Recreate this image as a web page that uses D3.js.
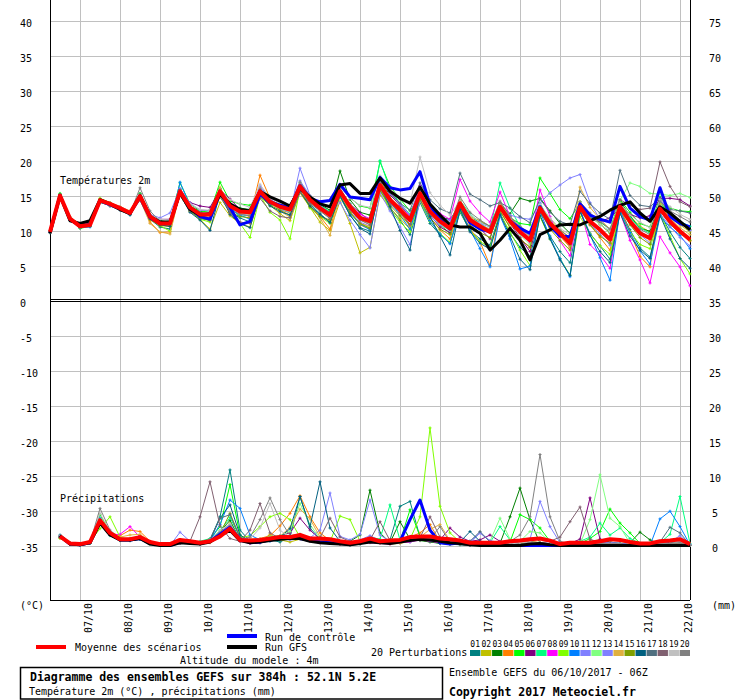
<!DOCTYPE html>
<html>
<head>
<meta charset="utf-8">
<script src="https://cdn.jsdelivr.net/npm/d3@7"></script>
<style>
  body { margin: 0; background: #fff; }
  text { font-family: "DejaVu Sans Mono", monospace; font-size: 10px; fill: #000; }
  .bold { font-weight: bold; font-size: 11.5px; }
  .tiny { font-size: 8px; }
</style>
</head>
<body>
<div id="chart"></div>
<script>
// run start 06/10/2017 06Z, 6-hourly steps over 384h
const runStart = Date.UTC(2017, 9, 6, 6)

const tempTicks = [0, 5, 10, 15, 20, 25, 30, 35, 40]
const tempRightLabels = ['35', '40', '45', '50', '55', '60', '65', '70', '75']
const lowLeftTicks = [-35, -30, -25, -20, -15, -10, -5]
const precipTicks = [0, 5, 10, 15, 20, 25, 30, 35]

const pertLabels = ['01', '02', '03', '04', '05', '06', '07', '08', '09', '10',
  '11', '12', '13', '14', '15', '16', '17', '18', '19', '20']
const pertColors = ['#008080', '#c0c000', '#008000', '#ff8000', '#00ff00', '#800080', '#00ff80', '#ff00ff', '#80ff00', '#0080ff',
  '#8080ff', '#80ff80', '#8080ff', '#e0b040', '#80a000', '#006080', '#507080', '#806070', '#c0c0c0', '#808080']

// 2m temperature (°C), 65 steps
const tempMean = [9.8, 15.0, 11.7, 10.6, 10.8, 14.3, 13.8, 13.2, 12.5, 14.9, 12.0, 11.0, 11.0, 15.6, 13.3, 12.3, 12.3,
  15.6, 13.5, 12.7, 12.6, 15.6, 14.1, 13.4, 13.0, 16.3, 14.4, 13.2, 12.2, 15.6, 13.4, 11.8, 11.3, 16.5, 14.4, 13.0, 11.5,
  15.3, 12.7, 11.3, 10.3, 13.9, 11.5, 10.6, 9.8, 13.4, 11.3, 9.8, 8.6, 13.2, 11.0, 9.6, 8.2, 13.4, 11.3, 10.1, 8.7,
  13.4, 11.3, 9.6, 8.9, 13.1, 11.3, 9.9, 8.7]
const tempCtrl = [9.7, 15.0, 11.6, 10.6, 10.9, 14.2, 13.7, 13.1, 12.5, 14.7, 11.8, 11.0, 11.0, 15.5, 13.2, 12.0, 11.6,
  15.4, 13.3, 10.8, 11.3, 15.2, 14.0, 13.6, 13.2, 16.4, 14.6, 14.1, 14.3, 16.6, 14.8, 14.6, 14.4, 17.6, 16.1, 15.8, 16.0,
  18.4, 13.6, 11.6, 10.2, 13.8, 11.1, 10.2, 9.8, 13.4, 11.4, 10.3, 9.6, 13.4, 10.7, 9.2, 9.1, 13.8, 12.2, 11.6, 11.2,
  16.3, 13.2, 12.0, 11.5, 16.1, 12.0, 11.0, 10.5]
const tempGfs = [9.6, 15.0, 11.4, 11.0, 11.4, 14.4, 13.8, 13.0, 12.4, 15.0, 12.0, 11.2, 11.2, 15.4, 13.0, 12.2, 12.4,
  15.2, 13.8, 13.0, 12.8, 15.6, 14.8, 14.2, 13.5, 16.0, 14.8, 13.8, 13.4, 16.5, 16.7, 15.3, 15.3, 17.5, 15.6, 14.6, 13.9,
  16.2, 13.8, 12.2, 10.8, 10.5, 10.5, 9.6, 7.2, 8.6, 10.3, 8.6, 5.8, 9.4, 10.1, 10.8, 10.9, 10.8, 11.4, 12.0, 12.9,
  13.6, 14.1, 12.5, 11.3, 13.4, 12.5, 11.3, 10.1]
const tempPert = [
  [9.7, 15.1, 11.5, 10.4, 10.7, 14.2, 13.6, 13.0, 12.3, 14.6, 11.6, 10.5, 10.2, 15.2, 12.8, 11.7, 11.5, 15.0, 12.6, 11.8, 11.2,
    15.9, 14.4, 13.6, 13.2, 16.0, 13.8, 12.4, 11.2, 14.8, 12.2, 10.4, 9.9, 15.8, 13.3, 11.5, 9.4, 14.0, 11.0, 9.4, 8.2,
    12.6, 10.0, 8.8, 7.9, 12.5, 9.6, 7.6, 6.3, 12.0, 9.2, 7.0, 5.4, 12.6, 9.6, 7.8, 5.9, 13.0, 10.1, 7.5, 6.2, 12.5, 9.8, 7.6, 6.0],
  [9.9, 14.9, 11.8, 10.7, 10.9, 14.5, 13.9, 13.3, 12.6, 14.3, 11.5, 10.8, 10.6, 15.0, 12.8, 11.6, 10.2, 14.0, 12.1, 11.0, 10.5,
    14.8, 13.6, 12.4, 11.4, 15.4, 13.3, 11.2, 10.0, 14.2, 11.0, 6.8, 7.6, 15.1, 13.2, 11.7, 10.2, 15.6, 13.2, 11.8, 10.9,
    14.3, 12.0, 11.4, 10.6, 14.0, 12.0, 10.3, 9.3, 13.5, 11.6, 10.1, 9.0, 14.1, 12.2, 11.0, 9.6, 13.9, 12.0, 10.6, 9.8, 13.3, 11.9, 10.8, 9.8],
  [9.8, 15.2, 11.9, 10.8, 10.9, 14.1, 13.7, 13.1, 12.5, 15.3, 12.3, 11.4, 11.2, 15.9, 13.5, 12.7, 12.9, 16.0, 13.9, 13.2, 13.0,
    15.4, 14.0, 13.2, 13.1, 16.6, 14.9, 13.7, 12.9, 18.5, 14.4, 12.6, 12.2, 17.0, 15.1, 13.6, 12.0, 15.1, 12.9, 11.9, 11.6,
    13.6, 11.8, 11.2, 10.6, 13.8, 12.4, 14.6, 14.2, 14.6, 12.8, 11.0, 9.6, 13.7, 12.0, 10.9, 9.7, 14.2, 12.1, 10.3, 9.9, 14.3, 12.5, 11.2, 10.1],
  [9.9, 14.8, 11.7, 10.5, 10.6, 14.4, 13.9, 13.4, 12.7, 15.0, 11.2, 9.7, 9.8, 15.4, 13.0, 12.1, 11.8, 15.8, 13.4, 12.4, 12.0,
    17.9, 14.6, 13.0, 12.5, 16.1, 13.5, 12.0, 10.2, 15.5, 12.8, 10.8, 10.2, 17.2, 14.6, 12.6, 10.6, 14.8, 11.9, 10.1, 8.8,
    13.4, 10.2, 8.4, 5.0, 12.8, 10.5, 8.8, 7.6, 13.6, 10.9, 9.2, 7.6, 13.1, 10.8, 9.0, 7.2, 13.2, 9.8, 6.3, 4.8, 14.3, 11.7, 9.8, 8.5],
  [9.7, 15.3, 11.6, 10.3, 10.6, 14.0, 13.6, 13.0, 12.4, 15.2, 12.1, 11.0, 11.3, 16.8, 13.8, 12.8, 12.6, 16.9, 14.2, 13.8, 13.6,
    15.2, 13.7, 13.3, 12.6, 15.8, 14.0, 13.0, 12.5, 16.4, 14.7, 13.5, 13.2, 19.8, 16.3, 14.5, 12.8, 14.9, 12.5, 10.8, 9.6,
    13.0, 11.2, 10.2, 9.9, 12.9, 11.8, 11.0, 10.8, 17.5, 15.3, 13.0, 11.7, 13.9, 12.0, 11.2, 10.2, 14.4, 12.6, 11.0, 10.5, 14.8, 13.2, 12.8, 12.7],
  [9.8, 14.9, 11.8, 10.6, 10.8, 14.3, 13.8, 13.3, 12.7, 14.6, 12.0, 11.6, 11.6, 15.1, 14.0, 13.5, 13.3, 15.8, 14.5, 13.0, 12.8,
    15.0, 14.2, 13.8, 13.5, 16.2, 14.1, 13.1, 12.6, 15.2, 13.8, 12.5, 11.4, 16.0, 14.0, 12.6, 10.8, 15.0, 12.2, 10.5, 9.7,
    13.8, 11.5, 10.3, 8.8, 13.6, 11.0, 9.0, 7.0, 12.6, 10.5, 9.5, 8.8, 12.8, 11.6, 11.3, 11.8, 13.2, 12.3, 11.8, 12.1, 14.6, 14.6, 14.4, 13.5],
  [9.9, 15.1, 11.7, 10.7, 10.9, 14.4, 13.9, 13.2, 12.4, 15.0, 12.2, 11.3, 11.0, 15.9, 13.5, 12.2, 12.1, 15.4, 13.2, 12.0, 12.2,
    15.8, 14.3, 13.5, 13.2, 16.9, 14.6, 13.6, 12.7, 16.0, 13.8, 12.0, 11.6, 20.0, 15.8, 13.9, 12.3, 16.0, 13.4, 12.0, 10.8,
    14.3, 12.4, 11.0, 10.1, 16.8, 13.2, 10.6, 9.2, 13.9, 11.3, 9.8, 8.6, 14.1, 11.6, 10.2, 9.0, 13.8, 11.8, 10.4, 9.6, 14.0, 12.4, 11.3, 10.6],
  [9.8, 15.0, 11.6, 10.5, 10.9, 14.4, 13.8, 13.0, 12.5, 15.0, 12.2, 11.2, 11.1, 15.5, 13.0, 12.4, 12.5, 15.4, 13.6, 12.9, 12.4,
    16.0, 14.5, 13.4, 12.9, 16.5, 14.6, 13.4, 12.4, 15.9, 13.6, 12.3, 11.7, 17.4, 15.2, 13.7, 12.0, 16.4, 13.6, 12.4, 11.6,
    17.3, 14.2, 12.5, 11.2, 15.5, 12.0, 9.6, 8.2, 15.8, 12.0, 8.5, 6.4, 13.2, 8.0, 6.5, 4.6, 12.6, 8.6, 5.8, 2.5, 9.1, 6.8, 4.8, 2.1],
  [9.9, 15.0, 11.9, 10.9, 10.8, 14.6, 14.0, 13.3, 12.6, 15.0, 11.8, 10.7, 9.9, 15.6, 12.9, 11.6, 11.2, 15.1, 12.7, 11.0, 9.0,
    15.0, 12.6, 11.5, 8.8, 15.9, 13.2, 12.0, 11.0, 14.9, 12.5, 10.9, 10.4, 15.9, 13.0, 11.2, 9.8, 14.2, 11.3, 9.6, 8.3,
    12.8, 10.0, 8.4, 7.6, 12.3, 9.8, 7.2, 5.0, 12.0, 8.8, 6.0, 3.6, 12.0, 9.5, 7.8, 6.6, 12.4, 9.8, 8.0, 7.4, 12.5, 9.2, 6.0, 3.8],
  [9.7, 15.1, 11.5, 10.4, 10.5, 14.2, 13.7, 13.2, 12.3, 14.7, 11.8, 10.9, 10.8, 16.9, 13.6, 12.0, 11.8, 15.6, 13.2, 12.2, 11.6,
    15.8, 14.2, 13.4, 13.1, 16.4, 14.4, 13.0, 12.0, 15.0, 12.5, 10.9, 10.1, 16.7, 14.1, 12.2, 10.2, 14.5, 11.4, 9.5, 8.1,
    13.1, 10.1, 7.4, 4.8, 12.1, 8.8, 4.5, 4.9, 12.8, 9.0, 6.0, 3.4, 13.0, 9.4, 6.1, 2.9, 12.8, 9.7, 7.1, 5.2, 12.0, 10.5, 9.3, 7.4],
  [9.8, 15.0, 11.8, 10.8, 11.2, 14.3, 13.6, 13.0, 12.6, 14.9, 12.3, 11.8, 12.5, 16.0, 13.9, 12.9, 12.8, 15.9, 13.8, 12.4, 12.1,
    16.2, 13.9, 13.0, 12.6, 18.9, 15.0, 13.4, 12.2, 14.0, 11.5, 9.4, 7.5, 15.4, 12.8, 10.5, 8.0, 14.2, 12.0, 10.8, 10.0,
    13.6, 11.8, 11.0, 10.5, 13.0, 12.2, 11.8, 11.6, 13.9, 15.4, 16.5, 17.5, 18.0, 14.0, 11.6, 10.0, 13.6, 11.2, 9.4, 8.2, 12.4, 10.6, 9.0, 7.8],
  [9.9, 14.9, 11.7, 10.6, 10.8, 14.3, 13.8, 13.3, 12.6, 14.8, 12.1, 11.2, 11.4, 15.3, 13.2, 12.5, 12.4, 15.6, 13.6, 12.9, 12.6,
    15.5, 13.9, 13.1, 12.7, 16.0, 14.1, 12.8, 11.8, 15.1, 12.9, 11.5, 11.0, 16.2, 14.5, 13.0, 11.8, 15.1, 12.4, 11.0, 10.0,
    13.6, 11.2, 10.6, 9.9, 13.1, 11.0, 9.4, 8.0, 13.5, 11.4, 9.7, 8.4, 13.4, 12.1, 10.8, 9.9, 14.3, 16.8, 16.3, 15.3, 15.2, 15.0, 15.3, 14.7],
  [9.8, 15.0, 11.6, 10.7, 10.7, 14.2, 13.8, 13.1, 12.4, 15.1, 12.0, 10.9, 10.9, 15.7, 13.4, 12.3, 12.3, 15.4, 13.3, 12.6, 12.3,
    16.4, 14.4, 13.7, 13.4, 17.1, 15.0, 13.6, 12.5, 15.3, 13.0, 11.2, 10.6, 17.5, 15.3, 13.8, 12.2, 16.2, 13.6, 12.0, 11.4,
    13.9, 11.4, 10.6, 10.0, 13.2, 11.6, 10.2, 9.1, 13.0, 10.7, 9.2, 7.8, 13.3, 10.9, 9.5, 7.9, 13.8, 11.6, 9.9, 9.0, 14.5, 12.6, 11.1, 10.0],
  [9.9, 15.0, 11.8, 10.8, 11.0, 14.5, 14.0, 13.4, 12.8, 14.4, 11.0, 9.8, 9.5, 15.4, 13.1, 12.0, 11.9, 16.2, 13.5, 12.5, 12.3,
    16.0, 14.1, 12.8, 11.9, 15.8, 13.6, 11.8, 9.3, 15.2, 12.7, 11.0, 10.6, 16.4, 14.2, 12.5, 10.7, 15.7, 13.0, 11.6, 10.5,
    14.3, 12.0, 10.8, 10.2, 13.9, 11.8, 10.5, 9.0, 13.4, 11.0, 9.3, 7.7, 16.2, 13.3, 11.6, 10.2, 13.6, 11.4, 9.8, 8.6, 13.8, 11.8, 10.4, 9.4],
  [9.8, 14.9, 11.7, 10.6, 10.7, 14.3, 13.7, 13.1, 12.5, 14.8, 11.6, 10.7, 10.6, 15.2, 12.7, 11.8, 11.4, 14.8, 12.6, 12.0, 11.8,
    15.0, 13.6, 12.9, 12.2, 15.5, 13.4, 12.0, 11.5, 14.9, 12.6, 11.0, 10.3, 15.7, 13.6, 12.1, 10.8, 14.4, 11.8, 10.2, 9.4,
    13.2, 10.8, 9.7, 9.0, 12.8, 10.4, 8.8, 7.6, 12.8, 10.2, 8.6, 7.2, 13.0, 10.8, 9.2, 8.2, 13.1, 10.8, 9.0, 8.0, 12.8, 10.9, 9.6, 8.6],
  [9.7, 15.1, 11.6, 10.5, 10.6, 14.2, 13.5, 12.9, 12.2, 14.7, 11.8, 10.8, 10.6, 15.1, 12.6, 11.5, 10.0, 15.3, 12.3, 11.0, 10.4,
    15.2, 13.5, 12.7, 12.2, 15.6, 13.5, 12.3, 11.1, 15.0, 12.2, 10.3, 9.5, 16.3, 13.4, 10.0, 7.2, 15.5, 12.0, 9.2, 6.5,
    13.0, 9.8, 8.2, 7.3, 12.3, 9.2, 5.9, 4.4, 12.2, 8.8, 5.8, 3.6, 12.8, 9.3, 7.0, 5.4, 12.5, 9.2, 7.2, 6.0, 12.2, 8.8, 6.0, 4.6],
  [9.8, 15.0, 11.7, 10.6, 10.9, 14.4, 13.9, 13.3, 12.5, 15.0, 11.9, 11.0, 11.1, 15.8, 13.4, 12.6, 12.4, 15.7, 13.4, 13.0, 12.8,
    15.9, 14.3, 13.7, 13.3, 16.3, 14.4, 13.4, 12.6, 16.0, 13.5, 11.9, 11.5, 17.2, 15.4, 13.9, 12.9, 16.8, 14.4, 13.1, 12.5,
    18.2, 15.2, 14.4, 13.5, 14.0, 13.2, 12.0, 11.1, 14.5, 12.6, 11.3, 10.8, 15.6, 13.8, 12.5, 11.6, 18.6, 15.0, 13.6, 13.4, 14.6, 13.0, 12.8, 12.5],
  [9.8, 15.1, 11.6, 10.5, 10.8, 14.2, 13.6, 13.2, 12.6, 15.0, 12.2, 11.2, 11.0, 15.2, 12.9, 11.9, 11.6, 15.4, 12.5, 11.2, 11.0,
    14.6, 12.8, 12.0, 11.8, 15.5, 13.9, 12.8, 11.7, 15.3, 13.0, 11.5, 10.8, 16.0, 13.8, 12.6, 10.9, 15.0, 12.6, 11.4, 10.6,
    13.6, 11.2, 10.4, 9.7, 13.5, 11.3, 9.9, 8.8, 13.0, 10.8, 9.4, 8.0, 13.8, 12.0, 11.6, 11.2, 14.4, 13.6, 13.0, 13.2, 19.8, 16.3, 14.1, 13.4],
  [9.9, 15.0, 11.9, 10.8, 10.9, 14.4, 13.9, 13.4, 12.7, 14.8, 12.2, 11.6, 11.5, 15.5, 13.8, 13.0, 12.9, 15.6, 14.4, 13.8, 13.3,
    16.6, 14.6, 13.9, 13.6, 16.8, 15.0, 14.0, 13.4, 16.2, 14.6, 13.6, 13.3, 17.8, 16.0, 14.6, 13.8, 20.5, 15.4, 13.6, 12.2,
    14.2, 12.2, 11.2, 10.5, 13.6, 11.6, 10.2, 9.4, 13.7, 11.8, 10.3, 9.4, 14.0, 12.2, 10.9, 9.8, 13.9, 12.2, 11.2, 10.4, 14.4, 13.4, 12.3, 11.6],
  [9.7, 15.0, 11.5, 10.4, 10.6, 14.1, 13.5, 13.0, 12.4, 16.1, 12.8, 11.3, 11.0, 15.0, 12.8, 12.0, 12.2, 14.8, 12.9, 12.3, 12.1,
    15.6, 13.9, 13.2, 12.9, 16.9, 14.8, 13.3, 12.0, 15.4, 13.4, 12.0, 11.4, 16.8, 14.6, 13.1, 11.7, 15.6, 13.0, 11.7, 10.9,
    14.8, 12.6, 11.5, 10.6, 14.2, 12.0, 10.6, 9.6, 13.4, 11.3, 10.0, 9.0, 14.1, 12.5, 11.3, 10.2, 13.5, 11.5, 10.2, 9.4, 14.2, 12.8, 12.0, 11.2]
]

// 6h precipitation (mm), 64 steps from +6h
const precipMean = [1.3, 0.3, 0.2, 0.5, 3.6, 1.8, 0.9, 0.9, 1.2, 0.5, 0.2, 0.2, 0.8, 0.6, 0.4, 0.6,
  1.3, 2.4, 0.8, 0.7, 0.8, 1.0, 1.2, 1.2, 1.5, 1.0, 1.0, 0.9, 0.6, 0.4, 0.6, 1.0,
  0.6, 0.7, 0.8, 1.2, 1.3, 1.3, 1.0, 0.9, 0.7, 0.4, 0.4, 0.4, 0.4, 0.6, 0.7, 0.9,
  1.0, 0.7, 0.2, 0.4, 0.4, 0.4, 0.6, 0.9, 0.8, 0.5, 0.3, 0.3, 0.6, 0.7, 0.9, 0.2]
const precipCtrl = [1.3, 0.2, 0.1, 0.4, 3.4, 1.6, 0.8, 0.8, 1.0, 0.3, 0.1, 0, 0.5, 0.4, 0.3, 0.6,
  1.6, 2.6, 0.9, 0.4, 0.5, 0.8, 1.0, 1.1, 1.0, 0.7, 0.5, 0.4, 0.3, 0.2, 0.4, 0.6,
  0.5, 0.4, 0.6, 3.7, 6.5, 2.2, 0.4, 0.2, 0.4, 0.2, 0.1, 0, 0, 0, 0, 0,
  0, 0, 0, 0, 0, 0, 0, 0, 0, 0, 0, 0, 0, 0, 0, 0]
const precipGfs = [1.4, 0.2, 0.1, 0.4, 3.2, 1.5, 0.8, 0.8, 1.0, 0.2, 0, 0, 0.4, 0.3, 0.2, 0.5,
  1.4, 2.2, 0.7, 0.4, 0.5, 0.7, 0.9, 1.0, 1.0, 0.6, 0.4, 0.3, 0.2, 0.1, 0.3, 0.5,
  0.4, 0.3, 0.5, 0.7, 0.9, 0.8, 0.6, 0.4, 0.3, 0.1, 0, 0, 0, 0, 0, 0.2,
  0.3, 0.1, 0, 0, 0, 0, 0, 0, 0, 0, 0, 0, 0, 0, 0, 0]
const precipPert = [
  [1.4, 0.2, 0.1, 0.5, 3.8, 1.5, 0.9, 0.7, 1.0, 0.3, 0.1, 0, 0.4, 0.3, 0.2, 0.8, 4.1, 10.8, 2.2, 0.6, 0.4, 0.8, 0.5, 1.2,
    7.0, 2.5, 0.9, 0.4, 0.2, 0, 0.2, 0.6, 0.4, 0.8, 5.6, 6.3, 1.2, 0.6, 0.3, 0.2, 0.1, 0, 0, 0, 0.2, 0.3, 0.5, 0.2,
    0, 0, 0, 0, 0, 0.2, 0.4, 0.3, 0.2, 0, 0, 0, 0.2, 0.4, 0.3, 0],
  [1.2, 0.3, 0.1, 0.4, 3.2, 1.8, 0.7, 0.8, 1.1, 0.5, 0.2, 0.1, 0.6, 0.4, 0.3, 0.5, 1.8, 3.2, 0.9, 0.3, 0.5, 1.6, 0.8, 0.5,
    0.9, 0.6, 0.4, 0.3, 0.2, 0.1, 0.3, 0.8, 0.5, 0.2, 0.3, 0.6, 1.0, 0.8, 0.4, 0.3, 0.2, 0.1, 0, 0, 0.1, 0.2, 0.4, 0.6,
    0.3, 0.1, 0, 0, 0.2, 0.3, 0.6, 0.4, 0.2, 0, 0, 0, 0.1, 0.3, 0.2, 0],
  [1.3, 0.2, 0.1, 0.5, 3.6, 1.7, 0.9, 0.9, 1.3, 0.4, 0.1, 0, 0.5, 0.6, 0.4, 0.6, 2.0, 3.6, 0.8, 0.5, 0.6, 0.9, 1.1, 1.4,
    1.6, 1.0, 1.2, 0.8, 0.3, 0.6, 1.5, 7.9, 1.8, 0.4, 3.4, 0.9, 0.7, 0.5, 0.3, 0.2, 0.2, 0, 0, 0, 0.3, 4.1, 8.2, 3.7,
    0.3, 0, 0, 0.1, 0.2, 0.6, 0.8, 0.5, 0.3, 0.4, 1.9, 0.8, 0.2, 0.5, 0.4, 0],
  [1.1, 0.3, 0.2, 0.6, 3.4, 1.9, 1.4, 2.2, 2.0, 0.6, 0.2, 0.1, 0.7, 0.4, 0.3, 0.4, 1.4, 2.2, 0.6, 0.9, 1.0, 1.4, 2.8, 4.6,
    7.1, 4.1, 1.8, 0.7, 0.3, 0.2, 0.3, 0.5, 0.4, 0.6, 0.8, 1.2, 1.8, 3.0, 0.6, 0.4, 0.3, 0.1, 0, 0, 0.1, 0.2, 0.5, 0.6,
    0.4, 0.2, 0, 0, 0.1, 0.2, 0.3, 0.2, 0.1, 0, 0, 0, 0.2, 0.6, 0.8, 0],
  [1.2, 0.3, 0.1, 0.3, 4.4, 2.0, 1.0, 0.8, 1.1, 0.3, 0.1, 0, 0.6, 0.4, 0.3, 0.9, 2.7, 8.7, 1.5, 0.6, 0.5, 0.9, 1.0, 1.0,
    1.3, 0.8, 0.7, 0.5, 0.4, 0.2, 0.3, 0.7, 0.5, 0.4, 0.6, 5.1, 1.3, 0.9, 0.5, 0.3, 0.2, 0, 0, 0, 0.2, 0.5, 4.4, 3.7,
    2.5, 0.6, 0.2, 0.1, 0.3, 1.0, 2.0, 5.2, 3.2, 1.8, 0.3, 0.1, 0.2, 0.3, 0.4, 0],
  [1.2, 0.3, 0.1, 0.4, 3.3, 1.6, 0.8, 0.8, 1.2, 0.4, 0.1, 0, 0.3, 0.5, 0.4, 0.6, 1.6, 2.4, 0.9, 0.4, 0.8, 1.2, 1.4, 1.8,
    3.9, 2.2, 0.9, 0.5, 0.3, 0.2, 0.4, 0.6, 0.4, 0.3, 0.5, 0.7, 1.1, 1.0, 0.8, 2.5, 1.2, 0.6, 0.8, 1.5, 0.6, 0.3, 0.2, 0.1,
    0, 0, 0.1, 0.3, 0.9, 6.8, 0.9, 0.3, 0.3, 0.1, 0, 0, 0.1, 0.2, 0.3, 0],
  [1.1, 0.2, 0.1, 0.4, 3.1, 1.4, 0.7, 0.7, 1.0, 0.2, 0, 0, 0.5, 0.4, 0.6, 1.0, 2.1, 4.0, 1.2, 0.6, 0.4, 0.8, 0.9, 1.1,
    1.2, 1.0, 0.9, 0.7, 0.5, 0.3, 0.6, 1.2, 0.9, 5.8, 0.8, 0.5, 0.9, 0.8, 0.6, 0.4, 0.3, 0.1, 0.2, 0.4, 2.7, 0.8, 0.5, 0.4,
    0.3, 0.2, 0.1, 0.2, 0.6, 1.2, 3.2, 1.5, 2.5, 1.0, 0.3, 0.2, 0.4, 1.6, 7.0, 0.3],
  [1.3, 0.3, 0.1, 0.5, 3.0, 1.5, 1.6, 2.7, 1.2, 0.3, 0.1, 0, 0.4, 0.3, 0.2, 0.5, 1.5, 2.0, 0.6, 0.3, 0.4, 0.7, 0.9, 1.0,
    1.1, 0.6, 0.4, 0.3, 0.2, 0.1, 0.3, 0.4, 0.3, 0.2, 0.4, 0.5, 0.8, 0.6, 0.4, 0.3, 0.2, 0, 0, 0, 0.1, 0.2, 0.3, 0.4,
    0.2, 0.1, 0, 0, 0.1, 0.3, 0.4, 0.3, 0.2, 0, 0, 0, 0.2, 0.4, 0.5, 0],
  [1.0, 0.3, 0.2, 0.6, 2.4, 4.1, 1.2, 0.8, 0.9, 0.3, 0.1, 0, 0.5, 0.4, 0.3, 0.6, 1.5, 3.0, 1.1, 1.4, 2.7, 4.1, 4.6, 3.7,
    1.2, 0.8, 0.6, 0.5, 4.2, 3.7, 0.6, 0.5, 0.4, 0.3, 0.5, 0.9, 4.1, 16.8, 5.6, 1.8, 0.5, 0.2, 0.1, 0, 0.1, 0.2, 0.4, 0.5,
    0.3, 0.1, 0, 0, 0.1, 0.2, 0.3, 0.2, 0.1, 0, 0, 0, 0.1, 0.2, 0.4, 0],
  [1.3, 0.2, 0.1, 0.4, 3.9, 1.8, 0.9, 0.8, 0.9, 0.3, 0.1, 0.1, 0.6, 0.5, 0.4, 0.7, 3.0, 6.5, 5.3, 1.5, 0.8, 0.6, 0.9, 1.1,
    1.0, 0.7, 0.5, 0.4, 0.3, 0.2, 0.4, 0.6, 0.5, 0.4, 0.6, 0.8, 1.0, 0.7, 0.5, 0.4, 0.3, 0.1, 0, 0, 0.1, 0.2, 0.3, 0.4,
    0.3, 0.1, 0, 0, 0.1, 0.2, 0.4, 0.3, 0.2, 0, 0, 0, 3.8, 4.9, 2.7, 0.1],
  [1.2, 0.3, 0.1, 0.4, 3.5, 1.7, 0.8, 0.9, 1.1, 0.3, 0.1, 0, 1.9, 0.6, 0.4, 0.7, 1.6, 2.5, 0.8, 0.5, 0.6, 0.9, 1.2, 0.8,
    0.9, 1.1, 2.2, 7.5, 1.3, 0.8, 1.6, 6.5, 1.5, 0.6, 0.5, 0.6, 0.9, 0.8, 0.7, 0.4, 0.6, 0.3, 1.8, 0.6, 0.4, 0.3, 0.5, 0.9,
    6.3, 2.7, 0.4, 0.2, 0.1, 0.2, 0.3, 0.4, 0.3, 0.1, 0, 0, 0.1, 0.2, 0.3, 0],
  [1.2, 0.3, 0.1, 0.4, 3.4, 1.6, 0.8, 0.8, 1.2, 0.4, 0.1, 0, 0.5, 0.4, 0.3, 0.6, 1.4, 2.6, 1.0, 0.6, 0.9, 1.3, 1.4, 2.0,
    6.0, 3.0, 1.0, 0.6, 0.4, 0.2, 0.3, 0.5, 0.4, 0.3, 0.5, 0.7, 1.1, 0.8, 0.6, 0.4, 0.3, 0.2, 0.3, 0.6, 3.9, 0.9, 0.6, 2.0,
    1.8, 0.5, 0.2, 0.1, 0.2, 3.7, 10.1, 3.9, 2.7, 0.3, 0.1, 0, 0.2, 0.4, 0.5, 0],
  [1.3, 0.3, 0.1, 0.5, 3.7, 1.9, 0.9, 0.8, 1.0, 0.3, 0.1, 0, 0.7, 0.5, 0.3, 0.6, 1.9, 3.0, 0.9, 0.5, 0.5, 0.8, 1.0, 1.1,
    1.0, 0.7, 0.6, 0.8, 0.5, 0.4, 0.8, 1.4, 0.7, 0.5, 0.6, 0.8, 1.0, 0.9, 0.7, 0.5, 0.4, 0.6, 1.8, 0.7, 0.4, 0.3, 0.4, 0.5,
    0.4, 0.3, 0.1, 0, 0.1, 0.3, 0.5, 0.4, 0.3, 0.1, 0, 0, 0.2, 0.5, 1.4, 0.1],
  [1.1, 0.2, 0.1, 0.4, 3.3, 1.6, 1.2, 1.5, 1.6, 0.5, 0.1, 0, 0.4, 0.3, 0.2, 0.5, 1.4, 2.3, 0.8, 0.5, 0.7, 1.0, 1.3, 2.6,
    5.2, 3.8, 1.2, 0.6, 0.3, 0.2, 0.3, 0.5, 0.4, 0.3, 0.5, 0.8, 1.2, 2.3, 3.0, 0.7, 0.4, 0.2, 0.1, 0, 0.1, 0.2, 0.4, 0.6,
    0.4, 0.2, 0, 0, 0.1, 0.2, 0.3, 0.2, 0.2, 0, 0, 0, 0.1, 0.3, 0.4, 0],
  [1.2, 0.3, 0.1, 0.5, 3.3, 1.6, 0.8, 0.8, 1.0, 0.3, 0.1, 0, 0.5, 0.4, 0.3, 0.6, 1.7, 4.6, 1.2, 0.5, 0.5, 0.8, 1.0, 1.2,
    1.3, 0.8, 0.6, 0.4, 0.3, 0.2, 0.4, 0.6, 0.5, 0.4, 0.5, 0.7, 1.0, 0.8, 0.6, 0.4, 0.3, 0.1, 0, 0, 0.1, 0.2, 0.3, 0.4,
    0.3, 0.1, 0, 0, 0.1, 0.2, 0.3, 0.2, 0.2, 0, 0, 0, 0.2, 0.3, 0.4, 0],
  [1.5, 0.2, 0.1, 0.4, 3.6, 1.7, 0.8, 0.7, 0.9, 0.3, 0.1, 0, 0.4, 0.3, 0.2, 0.7, 3.9, 5.8, 1.5, 0.6, 0.5, 0.8, 1.2, 2.4,
    7.0, 2.7, 9.1, 2.5, 0.6, 0.3, 0.4, 0.6, 0.5, 0.4, 0.6, 0.8, 1.0, 0.9, 0.7, 0.5, 0.5, 2.0, 0.6, 0.2, 0.1, 0.2, 0.4, 0.5,
    0.3, 0.1, 0, 0, 0.1, 0.2, 0.3, 0.2, 0.2, 0, 0, 0, 0.2, 0.4, 0.5, 0],
  [1.2, 0.3, 0.1, 0.4, 3.6, 1.7, 0.9, 0.9, 1.1, 0.4, 0.1, 0, 0.6, 0.5, 0.4, 0.9, 3.9, 4.4, 1.1, 0.6, 0.8, 1.0, 1.1, 1.3,
    1.4, 0.9, 0.7, 0.5, 0.3, 0.2, 0.4, 0.6, 0.5, 0.4, 0.6, 0.8, 1.1, 0.9, 0.7, 0.5, 0.4, 0.6, 2.0, 0.5, 0.3, 0.2, 0.4, 0.5,
    0.3, 0.2, 0.1, 0, 0.1, 0.2, 0.3, 0.2, 0.2, 0.1, 0, 0, 0.5, 2.6, 1.8, 0.1],
  [1.2, 0.3, 0.1, 0.4, 3.4, 1.6, 0.8, 0.8, 1.0, 0.3, 0.1, 0, 0.5, 0.6, 4.1, 9.1, 2.8, 1.0, 0.6, 2.2, 6.0, 1.8, 1.0, 1.2,
    1.3, 1.0, 1.1, 3.9, 1.2, 0.6, 0.5, 0.8, 3.4, 0.7, 0.6, 0.8, 1.1, 4.1, 1.2, 0.6, 0.5, 0.4, 0.3, 0.2, 0.1, 0.2, 0.4, 0.5,
    0.4, 0.6, 1.2, 3.4, 5.5, 0.9, 0.4, 0.3, 0.2, 0.1, 0, 0, 0.2, 0.3, 0.4, 0],
  [1.4, 0.3, 0.1, 0.5, 4.6, 2.0, 1.0, 0.9, 1.2, 0.4, 0.1, 0, 0.5, 0.4, 0.3, 0.8, 2.2, 3.1, 1.0, 0.9, 2.5, 6.0, 2.2, 1.1,
    1.2, 0.9, 0.7, 0.5, 0.3, 0.2, 0.4, 0.6, 0.5, 0.4, 0.6, 0.8, 1.0, 0.9, 0.7, 0.5, 0.4, 0.2, 0.1, 0, 0.1, 0.2, 0.4, 0.5,
    0.3, 0.2, 0.1, 0, 0.1, 0.2, 0.3, 0.2, 0.2, 0, 0, 0, 0.2, 0.3, 0.5, 0],
  [1.3, 0.3, 0.1, 0.4, 5.3, 2.2, 1.0, 0.9, 1.1, 0.3, 0.1, 0, 0.5, 0.4, 0.3, 0.7, 1.8, 2.8, 0.9, 1.2, 3.7, 6.8, 3.7, 1.4,
    1.3, 0.9, 0.7, 0.5, 0.3, 0.2, 0.4, 0.6, 0.5, 0.4, 0.6, 0.8, 1.0, 0.9, 2.7, 0.5, 0.4, 0.2, 0.1, 0, 0.1, 0.6, 1.5, 4.1,
    13.0, 4.1, 0.6, 0.2, 0.1, 0.2, 0.3, 0.2, 0.2, 0, 0, 0, 0.2, 0.3, 0.4, 0]
]

const W = 740
const H = 700
const hour = 3600 * 1000

const svg = d3.select('#chart').append('svg').attr('width', W).attr('height', H)

const x = d3.scaleUtc().domain([runStart, runStart + 384 * hour]).range([50, 690])
const yT = d3.scaleLinear().domain([0, 40]).range([300.5, 20.5])
const yP = d3.scaleLinear().domain([0, 35]).range([545.5, 300.5])
const yLow = d3.scaleLinear().domain([-35, 0]).range([545.5, 300.5])

const days = x.ticks(d3.utcDay.every(1))

// grid
const grid = svg.append('g').attr('shape-rendering', 'crispEdges')
grid.append('g').attr('transform', 'translate(50,0)')
  .call(d3.axisLeft(yT).tickValues(tempTicks.slice(1)).tickSize(-640).tickFormat(''))
grid.append('g').attr('transform', 'translate(50,0)')
  .call(d3.axisLeft(yLow).tickValues(lowLeftTicks).tickSize(-640).tickFormat(''))
grid.append('g').attr('transform', 'translate(0,600)')
  .call(d3.axisBottom(x).tickValues(days).tickSize(-600).tickFormat(''))
grid.selectAll('.domain').remove()
grid.selectAll('line').attr('stroke', '#c0c0c0')

// frame
const frame = svg.append('g').attr('stroke', '#000').attr('shape-rendering', 'crispEdges')
frame.append('line').attr('x1', 50).attr('x2', 50).attr('y1', 0).attr('y2', 600)
frame.append('line').attr('x1', 690).attr('x2', 690).attr('y1', 0).attr('y2', 600)
frame.append('line').attr('x1', 50).attr('x2', 690).attr('y1', 600).attr('y2', 600)
frame.append('line').attr('x1', 50).attr('x2', 690).attr('y1', 299).attr('y2', 299)
frame.append('line').attr('x1', 50).attr('x2', 690).attr('y1', 301).attr('y2', 301)

// axis labels
tempTicks.forEach((v, i) => {
  svg.append('text').attr('x', 20).attr('y', yT(v) + 6.5).text(v)
  svg.append('text').attr('x', 715).attr('y', yT(v) + 6.5).attr('text-anchor', 'middle').text(tempRightLabels[i])
})
lowLeftTicks.forEach((v) => {
  svg.append('text').attr('x', 20).attr('y', yLow(v) + 6.5).text(v)
})
precipTicks.slice(0, -1).forEach((v) => {
  svg.append('text').attr('x', 715).attr('y', yP(v) + 6.5).attr('text-anchor', 'middle').text(v)
})
svg.append('text').attr('x', 20).attr('y', 609).text('(°C)')
svg.append('text').attr('x', 712).attr('y', 609).text('(mm)')

const fmt = d3.utcFormat('%d/%m')
days.forEach((d) => {
  svg.append('text')
    .attr('transform', `translate(${x(d) + 12},603) rotate(-90)`)
    .attr('text-anchor', 'end')
    .text(fmt(d))
})

svg.append('text').attr('x', 60).attr('y', 184).text('Températures 2m')
svg.append('text').attr('x', 60).attr('y', 502).text('Précipitations')

// series
const tx = (d, i) => x(runStart + i * 6 * hour)
const px = (d, i) => x(runStart + (i + 1) * 6 * hour)
const lineT = d3.line().x(tx).y((d) => yT(d))
const lineP = d3.line().x(px).y((d) => yP(d))

const drawPert = (series, xf, yf, line) => {
  series.forEach((s, k) => {
    const g = svg.append('g')
    g.append('path').attr('d', line(s)).attr('fill', 'none')
      .attr('stroke', pertColors[k]).attr('stroke-width', 1)
    g.selectAll('path.m').data(s).enter().append('path')
      .attr('class', 'm')
      .attr('d', (d, i) => `M${xf(d, i) - 1.5},${yf(d)}h3M${xf(d, i)},${yf(d) - 1.5}v3`)
      .attr('stroke', pertColors[k]).attr('stroke-width', 1)
  })
}
const drawMain = (s, line, color, w) => {
  svg.append('path').attr('d', line(s)).attr('fill', 'none')
    .attr('stroke', color).attr('stroke-width', w).attr('stroke-linejoin', 'round')
}

drawPert(tempPert, tx, yT, lineT)
drawMain(tempCtrl, lineT, '#0000ff', 3)
drawMain(tempGfs, lineT, '#000000', 3)
drawMain(tempMean, lineT, '#ff0000', 4)

drawPert(precipPert, px, yP, lineP)
drawMain(precipCtrl, lineP, '#0000ff', 3)
drawMain(precipGfs, lineP, '#000000', 3)
drawMain(precipMean, lineP, '#ff0000', 4)

// legend
const leg = svg.append('g')
leg.append('line').attr('x1', 36).attr('x2', 66).attr('y1', 647).attr('y2', 647).attr('stroke', '#ff0000').attr('stroke-width', 4)
leg.append('text').attr('x', 75).attr('y', 651).text('Moyenne des scénarios')
leg.append('line').attr('x1', 227).attr('x2', 257).attr('y1', 636).attr('y2', 636).attr('stroke', '#0000ff').attr('stroke-width', 4)
leg.append('text').attr('x', 265).attr('y', 641).text('Run de contrôle')
leg.append('line').attr('x1', 227).attr('x2', 257).attr('y1', 647).attr('y2', 647).attr('stroke', '#000000').attr('stroke-width', 4)
leg.append('text').attr('x', 265).attr('y', 651).text('Run GFS')
leg.append('text').attr('x', 180).attr('y', 664).text('Altitude du modele : 4m')
leg.append('text').attr('x', 371).attr('y', 656).text('20 Perturbations')

const sq = d3.scaleBand().domain(pertLabels).range([470, 690]).paddingInner(0.06)
leg.selectAll('rect.sq').data(pertLabels).enter().append('rect')
  .attr('x', (d) => sq(d)).attr('y', 650).attr('width', sq.bandwidth()).attr('height', 6)
  .attr('fill', (d, i) => pertColors[i])
leg.selectAll('text.num').data(pertLabels).enter().append('text')
  .attr('class', 'tiny')
  .attr('x', (d) => sq(d) + sq.bandwidth() / 2).attr('y', 647)
  .attr('text-anchor', 'middle').text((d) => d)

// footer
svg.append('rect').attr('x', 20.5).attr('y', 667.5).attr('width', 422).attr('height', 31.5)
  .attr('fill', 'none').attr('stroke', '#000').attr('stroke-width', 1.5)
svg.append('text').attr('class', 'bold').attr('x', 30).attr('y', 681).text('Diagramme des ensembles GEFS sur 384h : 52.1N 5.2E')
svg.append('text').attr('x', 29).attr('y', 695).text('Température 2m (°C) , précipitations (mm)')
svg.append('text').attr('x', 449).attr('y', 676).text('Ensemble GEFS du 06/10/2017 - 06Z')
svg.append('text').attr('class', 'bold').attr('x', 449).attr('y', 696).text('Copyright 2017 Meteociel.fr')
</script>
</body>
</html>
